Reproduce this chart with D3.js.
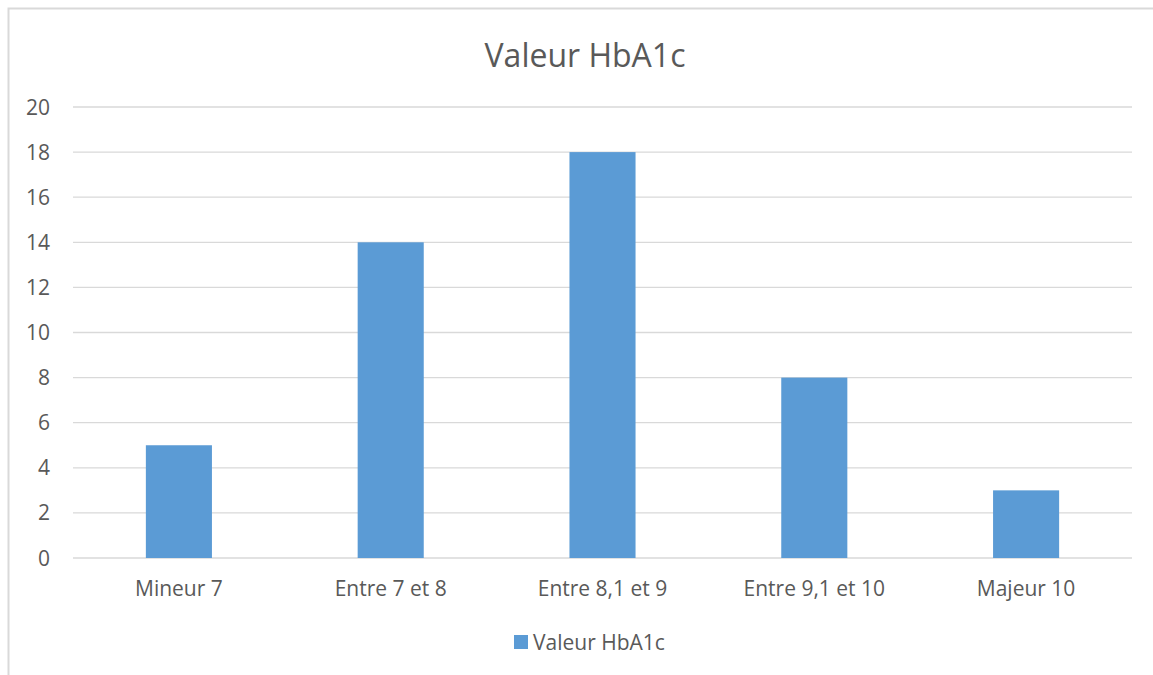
<!DOCTYPE html>
<html>
<head>
<meta charset="utf-8">
<script src="https://cdn.jsdelivr.net/npm/d3@7"></script>
<style>
  body { margin: 0; background: #fff; }
  text { font-family: "Open Sans", "Liberation Sans", sans-serif; fill: #595959; }
</style>
</head>
<body>
<div id="chart"></div>
<script>
// Données
const categories = ["Mineur 7", "Entre 7 et 8", "Entre 8,1 et 9", "Entre 9,1 et 10", "Majeur 10"];
const valeurs = [5, 14, 18, 8, 3];
const ticks = [0, 2, 4, 6, 8, 10, 12, 14, 16, 18, 20];
const titre = "Valeur HbA1c";
const serie = "Valeur HbA1c";

const W = 1153, H = 675;
const margin = {top: 107, right: 21, bottom: 117, left: 73},
      width = W - margin.left - margin.right,
      height = H - margin.top - margin.bottom;

const root = d3.select('#chart')
  .append('svg')
  .attr('width', W)
  .attr('height', H);

// Cadre du graphique (haut et gauche visibles)
root.append('path')
  .attr('d', 'M8.5,' + H + ' V8.5 H' + W)
  .attr('fill', 'none')
  .attr('stroke', '#d9d9d9')
  .attr('stroke-width', 2);

root.append('text')
  .attr('x', 585)
  .attr('y', 67)
  .attr('text-anchor', 'middle')
  .style('font-size', '32px')
  .text(titre);

const svg = root.append('g')
  .attr('transform', 'translate(' + margin.left + ',' + margin.top + ')');

const x = d3.scaleBand()
  .domain(categories)
  .range([0, width])
  .paddingInner(0.688)
  .paddingOuter(0.344);

const y = d3.scaleLinear()
  .domain([0, 20])
  .range([height, 0]);

// Quadrillage
svg.append('g')
  .selectAll('line')
  .data(ticks)
  .join('line')
  .attr('x1', 0)
  .attr('x2', width)
  .attr('y1', d => y(d))
  .attr('y2', d => y(d))
  .attr('stroke', '#d9d9d9')
  .attr('stroke-width', 1.3);

// Étiquettes axe Y
svg.append('g')
  .selectAll('text')
  .data(ticks)
  .join('text')
  .attr('x', -23)
  .attr('y', d => y(d))
  .attr('dy', '0.36em')
  .attr('text-anchor', 'end')
  .style('font-size', '21px')
  .text(d => d);

// Barres
svg.append('g')
  .selectAll('rect')
  .data(valeurs)
  .join('rect')
  .attr('x', (d, i) => x(categories[i]))
  .attr('y', d => y(d))
  .attr('width', x.bandwidth())
  .attr('height', d => y(0) - y(d))
  .attr('fill', '#5b9bd5');

// Étiquettes axe X
svg.append('g')
  .selectAll('text')
  .data(categories)
  .join('text')
  .attr('x', d => x(d) + x.bandwidth() / 2)
  .attr('y', height + 38)
  .attr('text-anchor', 'middle')
  .style('font-size', '21px')
  .text(d => d);

// Légende
const leg = root.append('g').attr('transform', 'translate(514,635)');
leg.append('rect').attr('width', 14).attr('height', 14).attr('fill', '#5b9bd5');
leg.append('text')
  .attr('x', 19)
  .attr('y', 15)
  .style('font-size', '21px')
  .text(serie);
</script>
</body>
</html>
